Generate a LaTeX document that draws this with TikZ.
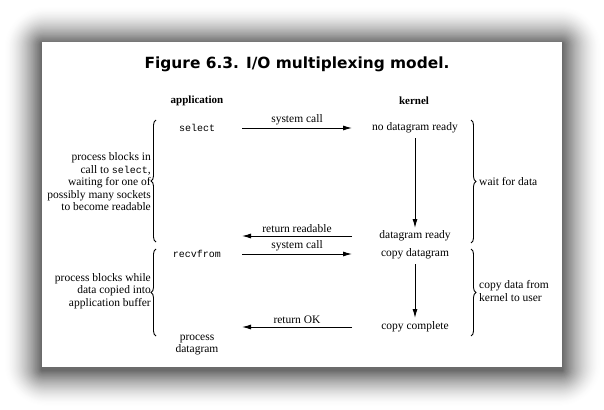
\documentclass[tikz,border=0pt]{standalone}
\usepackage{fontspec}
\setmainfont{Liberation Serif}
\setmonofont{Liberation Mono}
\newfontfamily\titlefont{DejaVu Sans}
\usetikzlibrary{arrows.meta,decorations.pathreplacing}
\begin{document}
\begin{tikzpicture}[x=1pt,y=-1pt,
  txt/.style={font=\fontsize{11.5}{12.5}\selectfont, inner sep=0pt},
  mono/.style={font=\fontsize{10}{12}\ttfamily, inner sep=0pt},
  hdr/.style={font=\fontsize{11}{12}\selectfont\bfseries, inner sep=0pt},
  arr/.style={line width=1pt, -{Latex[length=9pt,width=5pt]}},
  lbl/.style={font=\fontsize{11.5}{12}\selectfont, inner sep=0pt, above=3pt},
  brc/.style={line width=0.9pt, decorate, decoration={brace,amplitude=5pt}}
]
\useasboundingbox (0,0) rectangle (604,409);
\fill[white] (0,0) rectangle (604,409);
% soft shadow, drawn from outside in with solid greys
\foreach \i in {32,31,...,1} {
  \pgfmathsetmacro{\dk}{58*((33-\i)/32)^1.6}
  \pgfmathsetmacro{\rc}{1.3*\i}
  \fill[black!\dk!white, rounded corners=\rc pt]
    ({42-1.15*\i},{44-1.15*\i}) rectangle ({562+1.2*\i},{370+1.1*\i});
}
\node[fill=white, minimum width=520pt, minimum height=325pt, inner sep=0pt] (card) at (302,204.5) {};
\node[font=\fontsize{15.4}{17}\selectfont\titlefont\bfseries, inner sep=0pt] (title) at (297,64) {Figure 6.3. I/O multiplexing model.};
\node[hdr] (app) at (197,101) {application};
\node[hdr] (ker) at (414,101) {kernel};
% rows
\node[mono] (sel) at (197,128) {select};
\node[txt] (ndr) at (415,128) {no datagram ready};
\node[txt] (dr) at (415,236) {datagram ready};
\node[mono] (rcv) at (197,254) {recvfrom};
\node[txt] (cd) at (415,254) {copy datagram};
\node[txt] (cc) at (415,327) {copy complete};
\node[txt, align=center] (pd) at (197,345) {process\\datagram};
% horizontal arrow endpoints
\coordinate (a1s) at (242,128); \coordinate (a1e) at (352,128);
\coordinate (a2s) at (352,236); \coordinate (a2e) at (242,236);
\coordinate (a3s) at (242,254); \coordinate (a3e) at (352,254);
\coordinate (a4s) at (352,327); \coordinate (a4e) at (242,327);
\draw[arr] (a1s) -- node[lbl] {system call} (a1e);
\draw[arr] (a2s) -- node[lbl] {return readable} (a2e);
\draw[arr] (a3s) -- node[lbl] {system call} (a3e);
\draw[arr] (a4s) -- node[lbl] {return OK} (a4e);
% vertical arrows
\coordinate (v1s) at (415,138); \coordinate (v1e) at (415,228);
\coordinate (v2s) at (415,264); \coordinate (v2e) at (415,318);
\draw[arr] (v1s) -- (v1e);
\draw[arr] (v2s) -- (v2e);
% braces
\coordinate (lb1t) at (156,120); \coordinate (lb1b) at (156,242);
\coordinate (lb2t) at (156,249); \coordinate (lb2b) at (156,336);
\coordinate (rb1t) at (471,120); \coordinate (rb1b) at (471,243);
\coordinate (rb2t) at (471,249); \coordinate (rb2b) at (471,336);
\draw[brc] (lb1b) -- (lb1t);
\draw[brc] (lb2b) -- (lb2t);
\draw[brc] (rb1t) -- (rb1b);
\draw[brc] (rb2t) -- (rb2b);
\node[txt, align=right, anchor=east] (l1) at (151,182) {process blocks in\\call to {\fontsize{10}{12}\ttfamily select},\\waiting for one of\\possibly many sockets\\to become readable};
\node[txt, align=right, anchor=east] (l2) at (151,291) {process blocks while\\data copied into\\application buffer};
\node[txt, align=left, anchor=west] (r1) at (479,182) {wait for data};
\node[txt, align=left, anchor=west] (r2) at (479,291) {copy data from\\kernel to user};
\end{tikzpicture}
\end{document}
